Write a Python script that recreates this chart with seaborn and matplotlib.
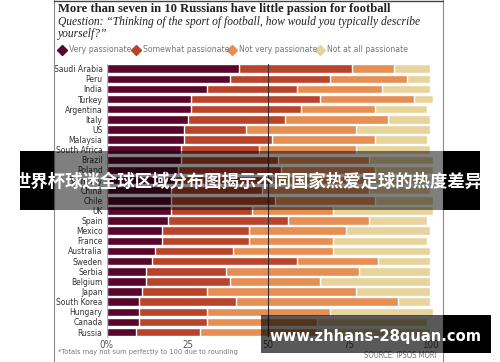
import pandas as pd
import seaborn as sns
import matplotlib.pyplot as plt
from matplotlib.lines import Line2D
from matplotlib.patches import Rectangle

# Data (percent of respondents)
countries = ["Saudi Arabia", "Peru", "India", "Turkey", "Argentina", "Italy", "US",
             "Malaysia", "South Africa", "Brazil", "Poland", "Germany", "China", "Chile",
             "UK", "Spain", "Mexico", "France", "Australia", "Sweden", "Serbia",
             "Belgium", "Japan", "South Korea", "Hungary", "Canada", "Russia"]
very = [41, 38, 31, 26, 26, 25, 24, 24, 23, 23, 22, 21, 20, 20, 20, 19, 17, 17, 15, 14,
        12, 12, 11, 10, 10, 10, 9]
somewhat = [35, 31, 28, 40, 34, 30, 19, 27, 24, 30, 32, 30, 28, 32, 25, 37, 27, 27, 24, 45,
            25, 26, 20, 30, 21, 21, 20]
not_very = [13, 24, 26, 29, 23, 32, 34, 32, 30, 28, 29, 29, 33, 31, 25, 25, 30, 26, 31, 25,
            41, 28, 46, 50, 38, 34, 36]
not_at_all = [11, 7, 15, 6, 16, 13, 23, 16, 23, 20, 18, 20, 19, 18, 31, 18, 26, 29, 30, 16,
              22, 34, 23, 10, 32, 34, 35]

categories = ["Very passionate", "Somewhat passionate", "Not very passionate",
              "Not at all passionate"]
colours = ["#58062b", "#b8442b", "#e58f55", "#e6d49c"]
x_ticks = [0, 25, 50, 75, 100]
x_tick_labels = ["0%", "25", "50", "75", "100"]

title = "More than seven in 10 Russians have little passion for football"
subtitle = ("Question: \u201cThinking of the sport of football, how would you typically describe\n"
            "yourself?\u201d")
footnote = "*Totals may not sum perfectly to 100 due to rounding"
source = "SOURCE: IPSOS MORI"
banner = "世界杯球迷全球区域分布图揭示不同国家热爱足球的热度差异"
watermark = "www.zhhans-28quan.com"

sns.set_style("white")
plt.rcParams['font.family'] = ['DejaVu Sans']
plt.rcParams['font.stretch'] = 'condensed'

df = pd.DataFrame({"country": countries, "very": very, "somewhat": somewhat,
                   "not_very": not_very, "not_at_all": not_at_all})
# cumulative ends for the stacked bars
df["c1"] = df["very"]
df["c2"] = df["c1"] + df["somewhat"]
df["c3"] = df["c2"] + df["not_very"]
df["c4"] = df["c3"] + df["not_at_all"]

W, H = 500, 362
fig = plt.figure(figsize=(W / 100, H / 100), dpi=100)
ax = fig.add_axes([106.7 / W, 1 - 337.1 / H, (443 - 106.7) / W, (337.1 - 63.6) / H])

# draw longest first so shorter ones sit on top
for col, colour in zip(["c4", "c3", "c2", "c1"], colours[::-1]):
    sns.barplot(data=df, x=col, y="country", color=colour, orient="h",
                width=0.84, saturation=1, ax=ax)

ax.set_xlim(0, 104)
ax.set_ylim(26.5, -0.5)
ax.set_xlabel("")
ax.set_ylabel("")
ax.set_xticks(x_ticks)
ax.set_xticklabels(x_tick_labels)
ax.axvline(50, color="#3b2b2b", lw=0.8, zorder=5)
for s in ["top", "right", "bottom"]:
    ax.spines[s].set_visible(False)
ax.spines["left"].set_color("#aaaaaa")
ax.spines["left"].set_linewidth(0.6)
ax.tick_params(axis="y", length=0, pad=3, labelsize=6.1, labelcolor="#333333")
ax.tick_params(axis="x", length=0, pad=2, labelsize=7, labelcolor="#555555")

# outer frame of the graphic
for xf in [54 / W, 443 / W]:
    fig.add_artist(Line2D([xf, xf], [0, 1], color="#8a8a8a", lw=0.8, transform=fig.transFigure))
fig.add_artist(Line2D([54 / W, 443 / W], [1 - 0.5 / H, 1 - 0.5 / H], color="#444444", lw=1,
                      transform=fig.transFigure))

# titles
fig.text(58 / W, 1 - 3 / H, title, ha="left", va="top", fontfamily="Liberation Serif",
         fontweight="bold", fontsize=9.1, color="#222222")
fig.text(58 / W, 1 - 15.5 / H, subtitle, ha="left", va="top", fontfamily="Liberation Serif",
         style="italic", fontsize=8.3, color="#222222", linespacing=1.0)

# legend
leg_diamond_x = [61.5, 135.5, 231.5, 320]
leg_text_x = [69, 143, 239, 327]
for cat, colour, dx, tx in zip(categories, colours, leg_diamond_x, leg_text_x):
    fig.add_artist(Line2D([dx / W], [1 - 50 / H], marker="D", markersize=5.5, color=colour,
                          lw=0, transform=fig.transFigure))
    fig.text(tx / W, 1 - 50 / H, cat, ha="left", va="center", fontsize=6.2, color="#777777")

fig.text(58 / W, 1 - 352 / H, footnote, ha="left", va="center", fontsize=5.3, color="#777777")
fig.text(437 / W, 1 - 355 / H, source, ha="right", va="center", fontsize=5.5, color="#777777")

# overlays from the reference image
fig.add_artist(Rectangle((20 / W, 1 - 210 / H), (54 - 20) / W, 59 / H, fc="black", lw=0,
                         transform=fig.transFigure, zorder=10))
fig.add_artist(Rectangle((443 / W, 1 - 210 / H), (480 - 443) / W, 59 / H, fc="black", lw=0,
                         transform=fig.transFigure, zorder=10))
fig.add_artist(Rectangle((54 / W, 1 - 210 / H), (443 - 54) / W, 59 / H, fc="black", alpha=0.5,
                         lw=0, transform=fig.transFigure, zorder=10))
fig.text(248 / W, 1 - 182 / H, banner, ha="center", va="center", color="white",
         fontfamily=["Noto Sans CJK SC", "DejaVu Sans"], fontweight="bold", fontsize=12.5,
         fontstretch="normal", zorder=11)

fig.add_artist(Rectangle((261 / W, 1 - 353 / H), (443 - 261) / W, 38 / H, fc="black",
                         alpha=0.65, lw=0, transform=fig.transFigure, zorder=10))
fig.add_artist(Rectangle((443 / W, 1 - 353 / H), (491 - 443) / W, 38 / H, fc="black", lw=0,
                         transform=fig.transFigure, zorder=10))
fig.text(375 / W, 1 - 336 / H, watermark, ha="center", va="center", color="white",
         fontfamily="DejaVu Sans", fontweight="bold", fontsize=10.6, fontstretch="normal",
         zorder=11)

fig.savefig("out.png", dpi=100)
